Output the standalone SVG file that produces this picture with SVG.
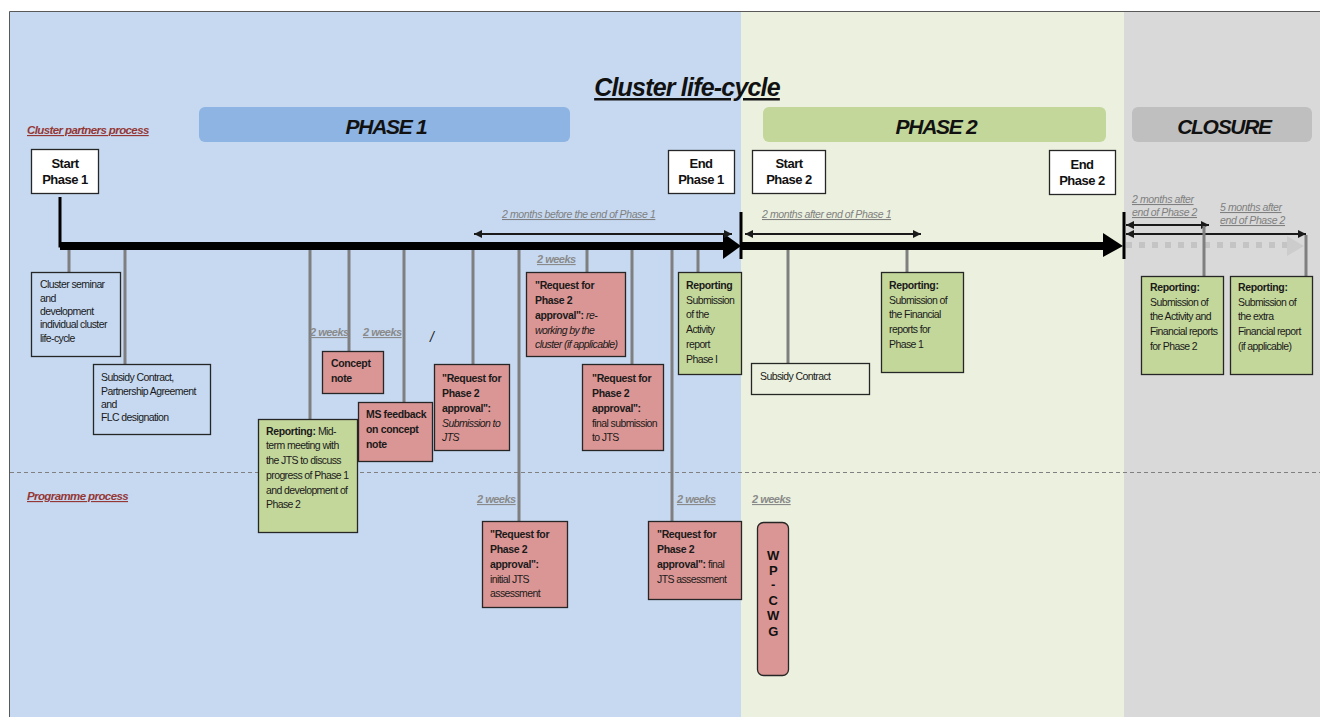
<svg xmlns="http://www.w3.org/2000/svg" width="1320" height="717" viewBox="0 0 1320 717">
<defs>
<style>
.t{font-family:"Liberation Sans",Arial,sans-serif;font-size:10.5px;letter-spacing:-0.6px;fill:#1a1a1a}
.b{font-weight:bold;letter-spacing:-0.35px}
.i{font-style:italic}
.h{font-family:"Liberation Sans",Arial,sans-serif;font-size:13px;font-weight:bold;letter-spacing:-0.5px;fill:#111;text-anchor:middle}
.ph{font-family:"Liberation Sans",Arial,sans-serif;font-size:21px;font-weight:bold;font-style:italic;letter-spacing:-1.3px;fill:#111;text-anchor:middle}
.wk{font-family:"Liberation Sans",Arial,sans-serif;font-size:11px;font-weight:bold;font-style:italic;letter-spacing:-0.5px;fill:#8a8a8a;text-decoration:underline}
.mo{font-family:"Liberation Sans",Arial,sans-serif;font-size:10.5px;font-style:italic;letter-spacing:-0.4px;fill:#7f7f7f;text-decoration:underline}
.sec{font-family:"Liberation Sans",Arial,sans-serif;font-size:11.5px;font-weight:bold;font-style:italic;letter-spacing:-0.6px;fill:#953735;text-decoration:underline}
.box{stroke:#262626;stroke-width:1.3}
.red{fill:#da9694}
.grn{fill:#c4d79b}
.wht{fill:#ffffff}
.clr{fill:none}
.con{stroke:#7f7f7f;stroke-width:3;fill:none}
.span{stroke:#1a1a1a;stroke-width:1.8;fill:none;marker-start:url(#ah);marker-end:url(#ah)}
</style>
<marker id="ah" markerUnits="userSpaceOnUse" markerWidth="8" markerHeight="8" refX="8" refY="4" orient="auto-start-reverse">
<path d="M0,0 L8,4 L0,8 z" fill="#1a1a1a"/>
</marker>
</defs>

<!-- backgrounds -->
<rect x="0" y="0" width="1320" height="717" fill="#ffffff"/>
<rect x="9.5" y="11.5" width="732" height="706" fill="#c6d9f1"/>
<rect x="741" y="11.5" width="383" height="706" fill="#ebf1de"/>
<rect x="1124" y="11.5" width="196" height="706" fill="#d9d9d9"/>
<path d="M9.5,717 V11.5 H1320" fill="none" stroke="#595959" stroke-width="1"/>

<!-- title and bars -->
<text x="687" y="96" font-family="Liberation Sans,Arial,sans-serif" font-size="25" font-weight="bold" font-style="italic" letter-spacing="-0.8" text-anchor="middle" fill="#111" text-decoration="underline">Cluster life-cycle</text>
<rect x="199" y="107" width="371" height="35" rx="6" fill="#8db4e2"/>
<text class="ph" x="386" y="134">PHASE 1</text>
<rect x="763" y="107" width="343" height="35" rx="6" fill="#c4d79b"/>
<text class="ph" x="936" y="134">PHASE 2</text>
<rect x="1132" y="107" width="180" height="35" rx="6" fill="#bfbfbf"/>
<text class="ph" x="1224" y="134">CLOSURE</text>

<text class="sec" x="27" y="134">Cluster partners process</text>
<text class="sec" x="27" y="500">Programme process</text>
<line x1="10" y1="472.5" x2="1320" y2="472.5" stroke="#808080" stroke-width="1" stroke-dasharray="4 3"/>

<!-- milestone boxes -->
<g id="start-phase1"><rect class="box wht" x="31.5" y="149.5" width="67" height="44"/><text class="h" x="65" y="168">Start</text><text class="h" x="65" y="184">Phase 1</text></g>
<g id="end-phase1"><rect class="box wht" x="668.5" y="150.5" width="66" height="43"/><text class="h" x="701" y="168">End</text><text class="h" x="701" y="184">Phase 1</text></g>
<g id="start-phase2"><rect class="box wht" x="752.5" y="150.5" width="73" height="43"/><text class="h" x="789" y="168">Start</text><text class="h" x="789" y="184">Phase 2</text></g>
<g id="end-phase2"><rect class="box wht" x="1049.5" y="150.5" width="66" height="44"/><text class="h" x="1082" y="169">End</text><text class="h" x="1082" y="185">Phase 2</text></g>

<!-- timeline -->
<g id="timeline">
<path d="M60,197 V246 H726" fill="none" stroke="#000" stroke-width="3"/>
<line x1="60" y1="246" x2="726" y2="246" stroke="#000" stroke-width="8"/>
<polygon points="723,233 741,246 723,259" fill="#000"/>
<line x1="741" y1="246" x2="1106" y2="246" stroke="#000" stroke-width="8"/>
<polygon points="1103,233 1123,246 1103,257" fill="#000"/>
<line x1="741" y1="212" x2="741" y2="259" stroke="#000" stroke-width="3"/>
<line x1="1124" y1="212" x2="1124" y2="259" stroke="#000" stroke-width="3"/>
<line x1="1126" y1="245" x2="1287" y2="245" stroke="#c4c4c4" stroke-width="6" stroke-dasharray="6 7"/>
<polygon points="1287,236 1304,246 1287,256" fill="#cccccc"/>
</g>

<!-- span arrows and labels -->
<g id="spans">
<line class="span" x1="474" y1="234" x2="732" y2="234"/>
<text class="mo" x="502" y="218">2 months before the end of Phase 1</text>
<line class="span" x1="745" y1="234" x2="921" y2="234"/>
<text class="mo" x="762" y="218">2 months after end of Phase 1</text>
<line class="span" x1="1126" y1="225" x2="1209" y2="225"/>
<text class="mo" x="1132" y="203">2 months after</text>
<text class="mo" x="1132" y="216">end of Phase 2</text>
<line class="span" x1="1126" y1="234" x2="1306" y2="234"/>
<text class="mo" x="1220" y="211">5 months after</text>
<text class="mo" x="1220" y="224">end of Phase 2</text>
</g>

<!-- connectors -->
<g id="connectors">
<line class="con" x1="69" y1="250" x2="69" y2="272"/>
<line class="con" x1="125" y1="250" x2="125" y2="364"/>
<line class="con" x1="310" y1="250" x2="310" y2="419"/>
<line class="con" x1="349" y1="250" x2="349" y2="351"/>
<line class="con" x1="404" y1="250" x2="404" y2="402"/>
<line class="con" x1="473" y1="250" x2="473" y2="364"/>
<line class="con" x1="519" y1="250" x2="519" y2="521"/>
<line class="con" x1="587" y1="250" x2="587" y2="272"/>
<line class="con" x1="632" y1="250" x2="632" y2="364"/>
<line class="con" x1="672" y1="250" x2="672" y2="521"/>
<line class="con" x1="698" y1="250" x2="698" y2="272"/>
<line class="con" x1="788" y1="250" x2="788" y2="363"/>
<line class="con" x1="907" y1="250" x2="907" y2="272"/>
<line class="con" x1="1204" y1="226" x2="1204" y2="276"/>
<line class="con" x1="1306" y1="235" x2="1306" y2="276"/>
</g>

<!-- 2 weeks labels -->
<text class="wk" x="310" y="336">2 weeks</text>
<text class="wk" x="363" y="336">2 weeks</text>
<text class="wk" x="537" y="263">2 weeks</text>
<text class="wk" x="477" y="503">2 weeks</text>
<text class="wk" x="677" y="503">2 weeks</text>
<text class="wk" x="752" y="503">2 weeks</text>
<text x="430" y="342" font-family="Liberation Sans,Arial,sans-serif" font-size="14" font-style="italic" fill="#222">/</text>

<!-- cluster partner nodes -->
<g id="cluster-seminar"><rect class="box clr" x="31.5" y="272.5" width="89" height="84"/>
<text class="t" x="40" y="288">Cluster seminar</text><text class="t" x="40" y="302">and</text><text class="t" x="40" y="315">development</text><text class="t" x="40" y="328">individual cluster</text><text class="t" x="40" y="342">life-cycle</text></g>

<g id="subsidy-contract"><rect class="box clr" x="93.5" y="364.5" width="117" height="70"/>
<text class="t" x="101" y="381">Subsidy Contract,</text><text class="t" x="101" y="395">Partnership Agreement</text><text class="t" x="101" y="408">and</text><text class="t" x="101" y="421">FLC designation</text></g>

<g id="reporting-midterm"><rect class="box grn" x="258.5" y="419.5" width="99" height="113"/>
<text class="t" x="266" y="435"><tspan class="b">Reporting:</tspan> Mid-</text><text class="t" x="266" y="449">term meeting with</text><text class="t" x="266" y="464">the JTS to discuss</text><text class="t" x="266" y="479">progress of Phase 1</text><text class="t" x="266" y="494">and development of</text><text class="t" x="266" y="508">Phase 2</text></g>

<g id="concept-note"><rect class="box red" x="322.5" y="351.5" width="61" height="42"/>
<text class="t b" x="331" y="367">Concept</text><text class="t b" x="331" y="382">note</text></g>

<g id="ms-feedback"><rect class="box red" x="358.5" y="402.5" width="74" height="59"/>
<text class="t b" x="366" y="418">MS feedback</text><text class="t b" x="366" y="433">on concept</text><text class="t b" x="366" y="448">note</text></g>

<g id="request-submission"><rect class="box red" x="434.5" y="364.5" width="75" height="86"/>
<text class="t b" x="442" y="382">"Request for</text><text class="t b" x="442" y="397">Phase 2</text><text class="t b" x="442" y="412">approval":</text><text class="t i" x="442" y="427">Submission to</text><text class="t i" x="442" y="441">JTS</text></g>

<g id="request-reworking"><rect class="box red" x="526.5" y="272.5" width="99" height="84"/>
<text class="t b" x="535" y="289">"Request for</text><text class="t b" x="535" y="304">Phase 2</text><text class="t" x="535" y="319"><tspan class="b">approval":</tspan><tspan class="i"> re-</tspan></text><text class="t i" x="535" y="334">working by the</text><text class="t i" x="535" y="348">cluster (if applicable)</text></g>

<g id="request-final-submission"><rect class="box red" x="582.5" y="364.5" width="81" height="86"/>
<text class="t b" x="592" y="382">"Request for</text><text class="t b" x="592" y="397">Phase 2</text><text class="t b" x="592" y="412">approval":</text><text class="t" x="592" y="427">final submission</text><text class="t" x="592" y="441">to JTS</text></g>

<g id="reporting-activity"><rect class="box grn" x="678.5" y="272.5" width="63" height="102"/>
<text class="t b" x="686" y="289">Reporting</text><text class="t" x="686" y="304">Submission</text><text class="t" x="686" y="318">of the</text><text class="t" x="686" y="333">Activity</text><text class="t" x="686" y="348">report</text><text class="t" x="686" y="363">Phase I</text></g>

<g id="subsidy-contract-2"><rect class="box clr" x="751.5" y="363.5" width="118" height="31"/>
<text class="t" x="760" y="380">Subsidy Contract</text></g>

<g id="reporting-financial-1"><rect class="box grn" x="881.5" y="272.5" width="82" height="100"/>
<text class="t b" x="889" y="289">Reporting:</text><text class="t" x="889" y="304">Submission of</text><text class="t" x="889" y="318">the Financial</text><text class="t" x="889" y="333">reports for</text><text class="t" x="889" y="348">Phase 1</text></g>

<g id="reporting-closure-1"><rect class="box grn" x="1141.5" y="276.5" width="82" height="98"/>
<text class="t b" x="1150" y="291">Reporting:</text><text class="t" x="1150" y="306">Submission of</text><text class="t" x="1150" y="320">the Activity and</text><text class="t" x="1150" y="335">Financial reports</text><text class="t" x="1150" y="350">for Phase 2</text></g>

<g id="reporting-closure-2"><rect class="box grn" x="1230.5" y="276.5" width="82" height="98"/>
<text class="t b" x="1238" y="291">Reporting:</text><text class="t" x="1238" y="306">Submission of</text><text class="t" x="1238" y="320">the extra</text><text class="t" x="1238" y="335">Financial report</text><text class="t" x="1238" y="350">(if applicable)</text></g>

<!-- programme nodes -->
<g id="initial-jts-assessment"><rect class="box red" x="482.5" y="521.5" width="85" height="86"/>
<text class="t b" x="490" y="538">"Request for</text><text class="t b" x="490" y="553">Phase 2</text><text class="t b" x="490" y="568">approval":</text><text class="t" x="490" y="583">initial JTS</text><text class="t" x="490" y="597">assessment</text></g>

<g id="final-jts-assessment"><rect class="box red" x="648.5" y="521.5" width="93" height="78"/>
<text class="t b" x="657" y="538">"Request for</text><text class="t b" x="657" y="553">Phase 2</text><text class="t" x="657" y="568"><tspan class="b">approval":</tspan> final</text><text class="t" x="657" y="583">JTS assessment</text></g>

<g id="wp-cwg"><rect class="box red" x="757.5" y="522.5" width="31" height="153" rx="6"/>
<g class="h" font-size="12"><text class="h" x="773" y="560">W</text><text class="h" x="773" y="575">P</text><text class="h" x="773" y="589">-</text><text class="h" x="773" y="605">C</text><text class="h" x="773" y="620">W</text><text class="h" x="773" y="636">G</text></g></g>
</svg>
